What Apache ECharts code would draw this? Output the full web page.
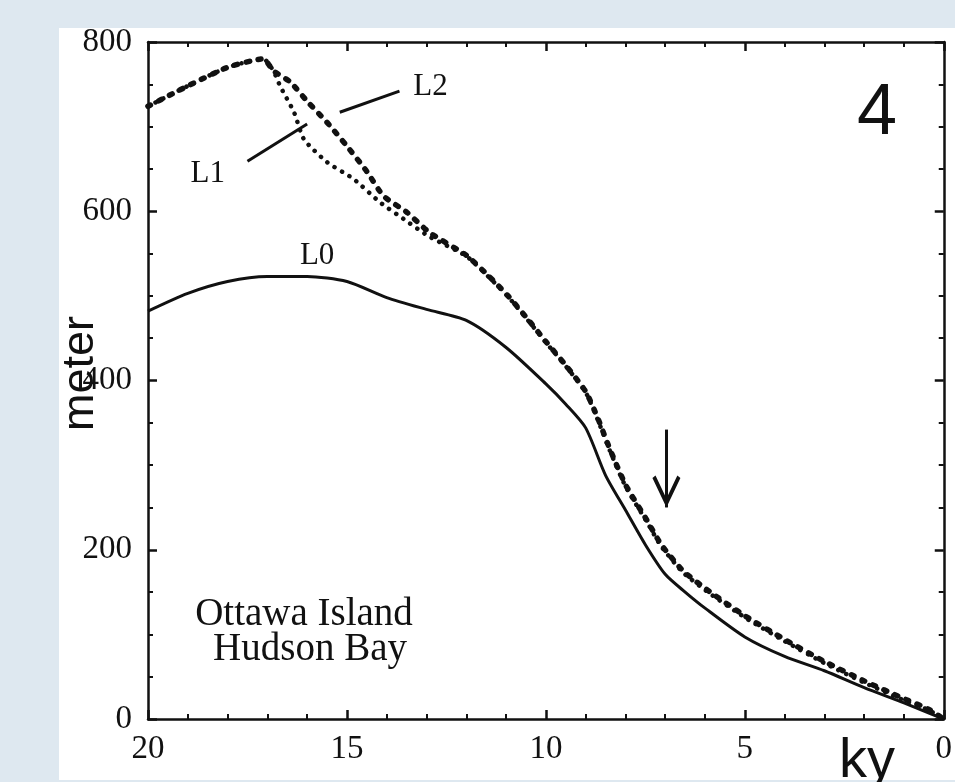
<!DOCTYPE html>
<html>
<head>
<meta charset="utf-8">
<script src="https://cdn.jsdelivr.net/npm/echarts@6/dist/echarts.min.js"></script>
<style>
html,body{margin:0;padding:0;background:#dee8f0;}
#chart{width:955px;height:782px;}
</style>
</head>
<body>
<div id="chart"></div>
<script>
// ---- data (age in ky BP, relative sea level in meters) ----
const xTicks = [20, 15, 10, 5, 0];
const yTicks = [0, 200, 400, 600, 800];

const l0Age = [20, 19, 18, 17, 16, 15, 14, 13, 12, 11, 10, 9.5, 9, 8.5, 8, 7.5, 7, 6.5, 6, 5, 4, 3, 2, 1, 0];
const l0Height = [482, 503, 517, 523, 523, 517, 498, 484, 471, 439, 396, 372, 344, 288, 247, 206, 171, 150, 131, 97, 74, 57, 37, 19, 0];

const l1Age = [20, 19, 18, 17.1, 16.85, 16.68, 16.33, 16.08, 15.5, 14.83, 14.18, 13.58, 12.93, 12, 11.45, 10.95, 10.5, 10, 9.5, 9, 8.7, 8.4, 8, 7.45, 7.1, 6.55, 5.9, 5, 4, 3, 2, 1, 0.4, 0];
const l1Height = [724, 748, 770, 780, 766, 748, 717, 685, 658, 638, 611, 591, 570, 547, 523, 499, 474, 445, 417, 386, 354, 318, 275, 232, 204, 173, 149, 120, 92, 66, 43, 22, 11, 0];

const l2Age = [20, 19, 18, 17.1, 16.85, 16.43, 16, 15.5, 15, 14.5, 14.08, 13.5, 12.93, 12, 11.45, 10.95, 10.5, 10, 9.5, 9, 8.7, 8.4, 8, 7.45, 7.1, 6.55, 5.9, 5, 4, 3, 2, 1, 0.4, 0];
const l2Height = [724, 748, 770, 780, 766, 753, 730, 705, 677, 647, 618, 599, 575, 548, 524, 500, 475, 446, 418, 387, 356, 320, 277, 234, 206, 175, 151, 122, 94, 68, 45, 24, 12, 0];

// annotation anchors (data coordinates)
const labelL0 = [15.75, 547];
const labelL1 = [18.5, 644];
const labelL2 = [12.9, 747];
const leaderL1 = [[17.5, 659], [16.0, 703]];
const leaderL2 = [[13.68, 742], [15.18, 717]];
const arrowLine = [[6.97, 342], [6.97, 250]];

const pairs = (a, h) => a.map((v, i) => [v, h[i]]);

const serif = "'Liberation Serif','DejaVu Serif',serif";
const sans = "'Liberation Sans','Noto Sans',sans-serif";
const ink = '#111';

const axisCommon = {
  type: 'value',
  axisLine: { show: true, onZero: false, lineStyle: { color: ink, width: 2.5 } },
  axisTick: { show: true, inside: true, length: 9, lineStyle: { color: ink, width: 2.5 } },
  minorTick: { show: true, length: 5, lineStyle: { color: ink, width: 2 } },
  splitLine: { show: false },
  minorSplitLine: { show: false }
};

const labelItem = (name, coord) => ({
  name: name, coord: coord, symbol: 'circle', symbolSize: 1,
  itemStyle: { color: 'rgba(0,0,0,0)' },
  label: { show: true, position: 'inside', formatter: '{b}', color: ink, fontFamily: serif, fontSize: 31 }
});

// open chevron arrow head; tip sits at the centre of the path's bounding box
const arrowHead = 'path://M10,0 L10.01,0 L10,0.01 Z M10,19 L0,36.6 L2.2,38.2 L10,24.5 L17.8,38.2 L20,36.6 Z';

const chart = echarts.init(document.getElementById('chart'));
chart.setOption({
  backgroundColor: '#dee8f0',
  animation: false,
  graphic: [
    { type: 'rect', z: -100, shape: { x: 59, y: 28, width: 896, height: 752 }, style: { fill: '#ffffff' } },
    { type: 'text', z: 100, style: { text: '4', x: 877, y: 114, align: 'center', verticalAlign: 'middle', font: "72px 'Liberation Sans', sans-serif", fill: ink } },
    { type: 'text', z: 100, style: { text: 'ky', x: 867, y: 762, align: 'center', verticalAlign: 'middle', font: "56px 'Liberation Sans', sans-serif", fill: ink } },
    { type: 'text', z: 100, style: { text: 'Ottawa Island', x: 304, y: 615, align: 'center', verticalAlign: 'middle', font: "39px 'Liberation Serif', serif", fill: ink } },
    { type: 'text', z: 100, style: { text: 'Hudson Bay', x: 310, y: 650, align: 'center', verticalAlign: 'middle', font: "39px 'Liberation Serif', serif", fill: ink } }
  ],
  grid: { left: 148, right: 7, top: 42, bottom: 63, containLabel: false },
  xAxis: [
    Object.assign({}, axisCommon, {
      position: 'bottom', min: 0, max: 20, interval: 5, inverse: true,
      minorTick: Object.assign({}, axisCommon.minorTick, { splitNumber: 5 }),
      axisLabel: { show: true, margin: 14, color: ink, fontFamily: serif, fontSize: 33,
        formatter: v => (xTicks.indexOf(v) >= 0 ? String(v) : '') }
    }),
    Object.assign({}, axisCommon, {
      position: 'top', min: 0, max: 20, interval: 5, inverse: true,
      minorTick: Object.assign({}, axisCommon.minorTick, { splitNumber: 5 }),
      axisLabel: { show: false }
    })
  ],
  yAxis: [
    Object.assign({}, axisCommon, {
      position: 'left', min: 0, max: 800, interval: 200,
      minorTick: Object.assign({}, axisCommon.minorTick, { splitNumber: 4 }),
      name: 'meter', nameLocation: 'middle', nameGap: 45, nameRotate: 90, nameMoveOverlap: false,
      nameTextStyle: { color: ink, fontFamily: sans, fontSize: 45, padding: [0, 0, 0, 14] },
      axisLabel: { show: true, margin: 16, color: ink, fontFamily: serif, fontSize: 33,
        formatter: v => (yTicks.indexOf(v) >= 0 ? String(v) : '') }
    }),
    Object.assign({}, axisCommon, {
      position: 'right', min: 0, max: 800, interval: 200,
      minorTick: Object.assign({}, axisCommon.minorTick, { splitNumber: 4 }),
      axisLabel: { show: false }
    })
  ],
  series: [
    {
      name: 'L0', type: 'line', xAxisIndex: 0, yAxisIndex: 0,
      data: pairs(l0Age, l0Height), symbol: 'none', smooth: 0.25,
      lineStyle: { color: ink, width: 3 },
      markPoint: { silent: true, data: [labelItem('L0', labelL0)] }
    },
    {
      name: 'L1', type: 'line', xAxisIndex: 0, yAxisIndex: 0,
      data: pairs(l1Age, l1Height), symbol: 'none', smooth: 0.2,
      lineStyle: { color: ink, width: 4.5, type: [0.1, 8.5], cap: 'round' },
      markPoint: { silent: true, data: [labelItem('L1', labelL1)] },
      markLine: {
        silent: true, symbol: ['none', 'none'], label: { show: false },
        lineStyle: { color: ink, width: 3, type: 'solid' },
        data: [[{ coord: leaderL1[0] }, { coord: leaderL1[1] }]]
      }
    },
    {
      name: 'L2', type: 'line', xAxisIndex: 0, yAxisIndex: 0,
      data: pairs(l2Age, l2Height), symbol: 'none', smooth: 0.2,
      lineStyle: { color: ink, width: 5.5, type: [3, 9], cap: 'round' },
      markPoint: { silent: true, data: [labelItem('L2', labelL2)] },
      markLine: {
        silent: true, symbol: ['none', 'none'], label: { show: false },
        lineStyle: { color: ink, width: 3, type: 'solid' },
        data: [
          [{ coord: leaderL2[0] }, { coord: leaderL2[1] }],
          [{ coord: arrowLine[0], symbol: 'none' },
           { coord: arrowLine[1], symbol: arrowHead, symbolSize: [28, 64] }]
        ]
      }
    }
  ]
});
</script>
</body>
</html>
